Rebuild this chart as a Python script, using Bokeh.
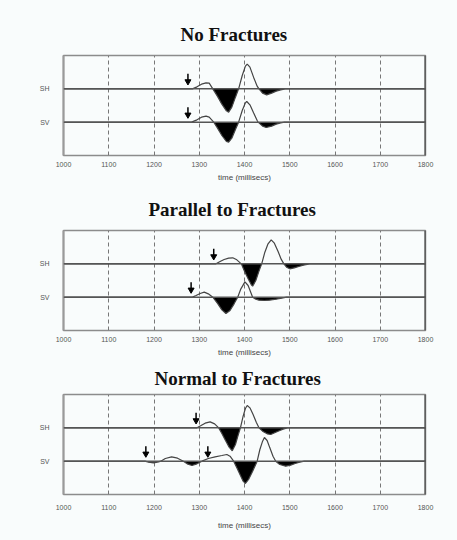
from bokeh.plotting import figure
from bokeh.layouts import column
from bokeh.models import FixedTicker, Span, Range1d
from bokeh.embed import file_html
from bokeh.resources import INLINE
import numpy as np

# time axis ticks (milliseconds)
TICKS = [1000, 1100, 1200, 1300, 1400, 1500, 1600, 1700, 1800]

# ---- No Fractures ----
nf_sh_t = [1000, 1285, 1295, 1305, 1315, 1322, 1330, 1340, 1350, 1360, 1365, 1372, 1380, 1387,
           1395, 1402, 1406, 1412, 1420, 1428, 1432, 1440, 1449, 1460, 1470, 1480, 1490, 1800]
nf_sh_a = [0, 0, 0.06, 0.14, 0.18, 0.17, 0, -0.22, -0.46, -0.66, -0.70, -0.55, -0.25, 0,
           0.40, 0.68, 0.74, 0.65, 0.35, 0.08, 0, -0.13, -0.18, -0.13, -0.07, -0.03, 0, 0]
nf_sv_t = [1000, 1283, 1295, 1305, 1315, 1322, 1332, 1340, 1350, 1360, 1365, 1372, 1380, 1387,
           1395, 1402, 1405, 1412, 1420, 1428, 1430, 1440, 1448, 1460, 1470, 1480, 1488, 1800]
nf_sv_a = [0, 0, 0.07, 0.15, 0.18, 0.15, 0, -0.17, -0.40, -0.58, -0.60, -0.48, -0.22, 0,
           0.35, 0.58, 0.62, 0.52, 0.28, 0.05, 0, -0.12, -0.16, -0.12, -0.06, -0.02, 0, 0]
nf_sh_picks = [1275]
nf_sv_picks = [1275]

# ---- Parallel to Fractures ----
pa_sh_t = [1000, 1337, 1345, 1355, 1365, 1374, 1383, 1393, 1400, 1408, 1415, 1418, 1425, 1432,
           1438, 1445, 1452, 1459, 1466, 1474, 1481, 1487, 1493, 1500, 1510, 1520, 1530, 1544, 1800]
pa_sh_a = [0, 0, 0.06, 0.13, 0.17, 0.18, 0.12, 0, -0.22, -0.45, -0.63, -0.67, -0.50, -0.22,
           0, 0.35, 0.60, 0.72, 0.62, 0.38, 0.14, 0, -0.10, -0.15, -0.12, -0.08, -0.04, 0, 0]
pa_sv_t = [1000, 1285, 1293, 1302, 1311, 1320, 1330, 1340, 1350, 1359, 1368, 1377, 1385,
           1392, 1401, 1408, 1418, 1425, 1432, 1444, 1455, 1470, 1482, 1493, 1800]
pa_sv_a = [0, 0, 0.05, 0.11, 0.15, 0.10, 0, -0.18, -0.38, -0.49, -0.40, -0.20, 0,
           0.25, 0.46, 0.35, 0, -0.06, -0.09, -0.10, -0.09, -0.06, -0.03, 0, 0]
pa_sh_picks = [1332]
pa_sv_picks = [1282]

# ---- Normal to Fractures ----
no_sh_t = [1000, 1295, 1303, 1313, 1324, 1334, 1343, 1350, 1358, 1366, 1373, 1380, 1386, 1391,
           1397, 1402, 1406, 1412, 1419, 1426, 1432, 1440, 1450, 1458, 1468, 1478, 1487, 1495, 1800]
no_sh_a = [0, 0, 0.06, 0.14, 0.18, 0.12, 0, -0.17, -0.38, -0.58, -0.69, -0.50, -0.22, 0,
           0.35, 0.58, 0.67, 0.60, 0.40, 0.17, 0, -0.10, -0.18, -0.20, -0.14, -0.08, -0.03, 0, 0]
no_sv_t = [1000, 1180, 1188, 1199, 1210, 1215, 1225, 1239, 1252, 1265, 1275, 1284, 1295, 1306,
           1320, 1335, 1350, 1361, 1368, 1376, 1383, 1390, 1397, 1402, 1409, 1418, 1428,
           1434, 1440, 1444, 1450, 1456, 1463, 1469, 1478, 1491, 1502, 1512, 1522, 1532, 1800]
no_sv_a = [0, 0, -0.03, -0.05, -0.02, 0, 0.08, 0.13, 0.09, 0, -0.09, -0.13, -0.08, 0,
           0.08, 0.13, 0.17, 0.20, 0.15, 0, -0.20, -0.40, -0.60, -0.67, -0.55, -0.30, 0,
           0.35, 0.60, 0.71, 0.62, 0.40, 0.15, 0, -0.10, -0.15, -0.12, -0.07, -0.03, 0, 0]
no_sh_picks = [1293]
no_sv_picks = [1182, 1319]

BG = "#f9fcfc"
SANS = "Liberation Sans"
SERIF = "Liberation Serif"


def panel(title, sh_t, sh_a, sv_t, sv_a, sh_picks, sv_picks,
          border_top, border_bottom, title_standoff, title_offset,
          label_standoff, axis_label_standoff):
    p = figure(frame_width=362, frame_height=100,
               x_range=Range1d(1000, 1800), y_range=Range1d(0, 3),
               output_backend="svg", toolbar_location=None,
               min_border_left=63, min_border_right=32,
               min_border_top=border_top, min_border_bottom=border_bottom,
               background_fill_color=BG, border_fill_color=BG,
               outline_line_color="#8c8c8c", outline_line_width=1.5)

    p.title.text = title
    p.title.align = "left"
    p.title.offset = title_offset
    p.title.standoff = title_standoff
    p.title.text_font = SERIF
    p.title.text_font_size = "19px"
    p.title.text_font_style = "bold"
    p.title.text_color = "#111111"

    xa = p.xaxis[0]
    xa.ticker = FixedTicker(ticks=TICKS)
    xa.axis_line_color = None
    xa.major_tick_line_color = None
    xa.minor_tick_line_color = None
    xa.major_label_text_font = SANS
    xa.major_label_text_font_size = "7px"
    xa.major_label_text_color = "#555555"
    xa.major_label_standoff = label_standoff
    xa.axis_label = "time (millisecs)"
    xa.axis_label_text_font = SANS
    xa.axis_label_text_font_size = "8px"
    xa.axis_label_text_font_style = "normal"
    xa.axis_label_text_color = "#444444"
    xa.axis_label_standoff = axis_label_standoff

    ya = p.yaxis[0]
    ya.ticker = FixedTicker(ticks=[1, 2])
    ya.major_label_overrides = {1: "SV", 2: "SH"}
    ya.axis_line_color = "#9a9a9a"
    ya.axis_line_width = 2
    ya.major_tick_line_color = None
    ya.minor_tick_line_color = None
    ya.major_label_text_font = SANS
    ya.major_label_text_font_size = "7px"
    ya.major_label_text_color = "#555555"
    ya.major_label_standoff = 8

    p.xgrid.ticker = FixedTicker(ticks=TICKS)
    p.xgrid.grid_line_color = "#777777"
    p.xgrid.grid_line_dash = "4 3"
    p.xgrid.grid_line_width = 1
    p.ygrid.grid_line_color = None

    # darker right-hand edge of the frame
    p.add_layout(Span(location=1800, dimension="height",
                      line_color="#333333", line_width=2))

    for base, t, a, picks in ((2, sh_t, sh_a, sh_picks), (1, sv_t, sv_a, sv_picks)):
        t = np.asarray(t, dtype=float)
        a = np.asarray(a, dtype=float)
        p.add_layout(Span(location=base, dimension="width",
                          line_color="#555555", line_width=1.5))
        # variable-area fill of the negative lobes
        p.varea(x=t, y1=np.full_like(t, base), y2=base + np.minimum(a, 0),
                fill_color="black")
        p.line(t, base + a, line_color="#444444", line_width=1.2)
        # first-arrival picks
        picks = list(picks)
        p.segment(x0=picks, y0=[base + 0.45] * len(picks),
                  x1=picks, y1=[base + 0.25] * len(picks),
                  line_color="black", line_width=1.5)
        p.scatter(x=picks, y=[base + 0.22] * len(picks), marker="inverted_triangle",
                  size=6, fill_color="black", line_color="black")
    return p


p1 = panel("No Fractures", nf_sh_t, nf_sh_a, nf_sv_t, nf_sv_a,
           nf_sh_picks, nf_sv_picks, 55, 29, 22, 117, 0, 3)
p2 = panel("Parallel to Fractures", pa_sh_t, pa_sh_a, pa_sv_t, pa_sv_a,
           pa_sh_picks, pa_sv_picks, 46, 29, 22, 85, 0, 3)
p3 = panel("Normal to Fractures", no_sh_t, no_sh_a, no_sv_t, no_sv_a,
           no_sh_picks, no_sv_picks, 35, 46, 11, 91, 4, 8)

layout = column(p1, p2, p3, spacing=0)
layout.styles = {"background-color": BG}

open("out.html", "w").write(file_html(layout, INLINE))
